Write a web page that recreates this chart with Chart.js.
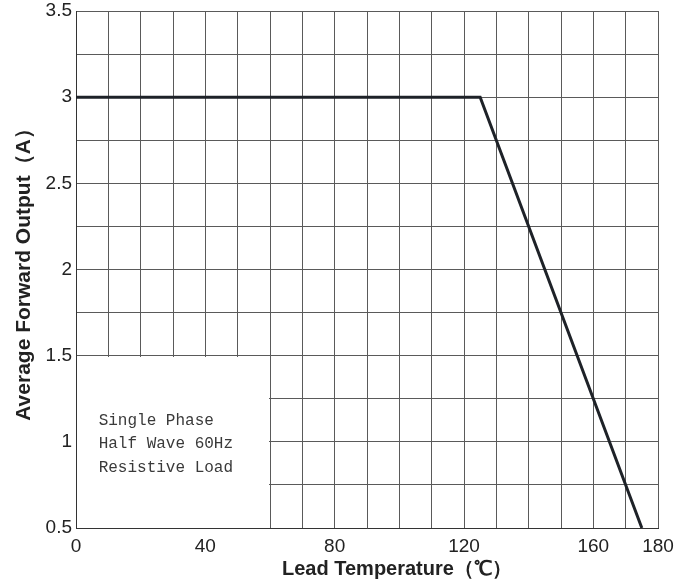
<!DOCTYPE html>
<html>
<head>
<meta charset="utf-8">
<script src="https://cdn.jsdelivr.net/npm/chart.js@4/dist/chart.umd.min.js"></script>
<style>
html,body{margin:0;padding:0;background:#fff;}
#wrap{width:684px;height:581px;position:relative;}
</style>
</head>
<body>
<div id="wrap"><canvas id="c" width="684" height="581"></canvas></div>
<script>
// Data
const leadTemp = [0, 125, 175];
const avgCurrent = [3, 3, 0.5];
const xLabeled = [0, 40, 80, 120, 160, 180];
const yLabeled = [0.5, 1, 1.5, 2, 2.5, 3, 3.5];
const noteLines = ['Single Phase', 'Half Wave 60Hz', 'Resistive Load'];
const blankBox = {x0: 0, x1: 60, y0: 0.5, y1: 1.5};
const xTitle = 'Lead Temperature（℃）';
const yTitle = 'Average Forward Output（A）';

const points = leadTemp.map((t, i) => ({x: t, y: avgCurrent[i]}));

const bgPlugin = {
  id: 'bg',
  beforeDraw(chart) {
    const ctx = chart.ctx;
    ctx.save();
    ctx.fillStyle = '#fff';
    ctx.fillRect(0, 0, chart.width, chart.height);
    ctx.restore();
  }
};

const boxPlugin = {
  id: 'box',
  beforeDatasetsDraw(chart) {
    const ctx = chart.ctx;
    const xs = chart.scales.x, ys = chart.scales.y;
    const l = Math.round(xs.getPixelForValue(blankBox.x0));
    const r = Math.round(xs.getPixelForValue(blankBox.x1));
    const t = Math.round(ys.getPixelForValue(blankBox.y1));
    const b = Math.round(ys.getPixelForValue(blankBox.y0));
    ctx.save();
    ctx.fillStyle = '#fff';
    ctx.fillRect(l + 1, t + 1, r - l - 2, b - t - 1);
    ctx.strokeStyle = '#333';
    ctx.lineWidth = 1;
    ctx.beginPath();
    ctx.moveTo(l + 0.5, t);
    ctx.lineTo(l + 0.5, b + 1);
    ctx.moveTo(l, b + 0.5);
    ctx.lineTo(r + 1, b + 0.5);
    ctx.stroke();
    ctx.fillStyle = '#3a3a3a';
    ctx.font = '16px "Liberation Mono", monospace';
    ctx.textBaseline = 'middle';
    ctx.textAlign = 'left';
    const tx = xs.getPixelForValue(7);
    const ty0 = ys.getPixelForValue(1.125);
    noteLines.forEach((s, i) => ctx.fillText(s, tx, ty0 + i * 23.5));
    ctx.restore();
  },
  afterDraw(chart) {
    const ctx = chart.ctx;
    const ca = chart.chartArea;
    ctx.save();
    ctx.fillStyle = '#222';
    ctx.font = 'bold 20px "Liberation Sans", Arial, sans-serif';
    ctx.textAlign = 'left';
    ctx.textBaseline = 'alphabetic';
    ctx.fillText(xTitle, 282, 575);
    ctx.translate(30, (ca.top + ca.bottom) / 2);
    ctx.rotate(-Math.PI / 2);
    ctx.font = 'bold 21px "Liberation Sans", Arial, sans-serif';
    ctx.textAlign = 'center';
    ctx.fillText(yTitle, 0, 0);
    ctx.restore();
  }
};

new Chart(document.getElementById('c'), {
  type: 'line',
  data: {
    datasets: [{
      data: points,
      borderColor: '#1e2228',
      borderWidth: 3,
      pointRadius: 0,
      tension: 0,
      fill: false
    }]
  },
  options: {
    responsive: false,
    animation: false,
    layout: {padding: {left: 0, top: 11, right: 26, bottom: 0}},
    plugins: {legend: {display: false}, tooltip: {enabled: false}},
    scales: {
      x: {
        type: 'linear',
        min: 0, max: 180,
        afterFit(s) { s.height = 53; s.paddingTop = 0; s.paddingBottom = 0; },
        border: {display: true, color: '#333', width: 1},
        grid: {color: '#5a5a5a', lineWidth: 1, drawTicks: false},
        ticks: {
          stepSize: 10,
          autoSkip: false,
          maxRotation: 0,
          padding: 7,
          color: '#222',
          font: {family: '"Liberation Sans", Arial, sans-serif', size: 19},
          callback: (v) => xLabeled.includes(v) ? String(v) : ''
        },
        title: {display: false, text: xTitle}
      },
      y: {
        type: 'linear',
        min: 0.5, max: 3.5,
        afterFit(s) { s.width = 76; s.paddingTop = 0; s.paddingBottom = 0; },
        border: {display: true, color: '#333', width: 1},
        grid: {color: '#5a5a5a', lineWidth: 1, drawTicks: false},
        ticks: {
          stepSize: 0.25,
          autoSkip: false,
          padding: 4,
          color: '#222',
          font: {family: '"Liberation Sans", Arial, sans-serif', size: 19, lineHeight: 1},
          callback: (v) => yLabeled.some(y => Math.abs(y - v) < 1e-9) ? String(v) : ''
        },
        title: {display: false, text: yTitle}
      }
    }
  },
  plugins: [bgPlugin, boxPlugin]
});
</script>
</body>
</html>
